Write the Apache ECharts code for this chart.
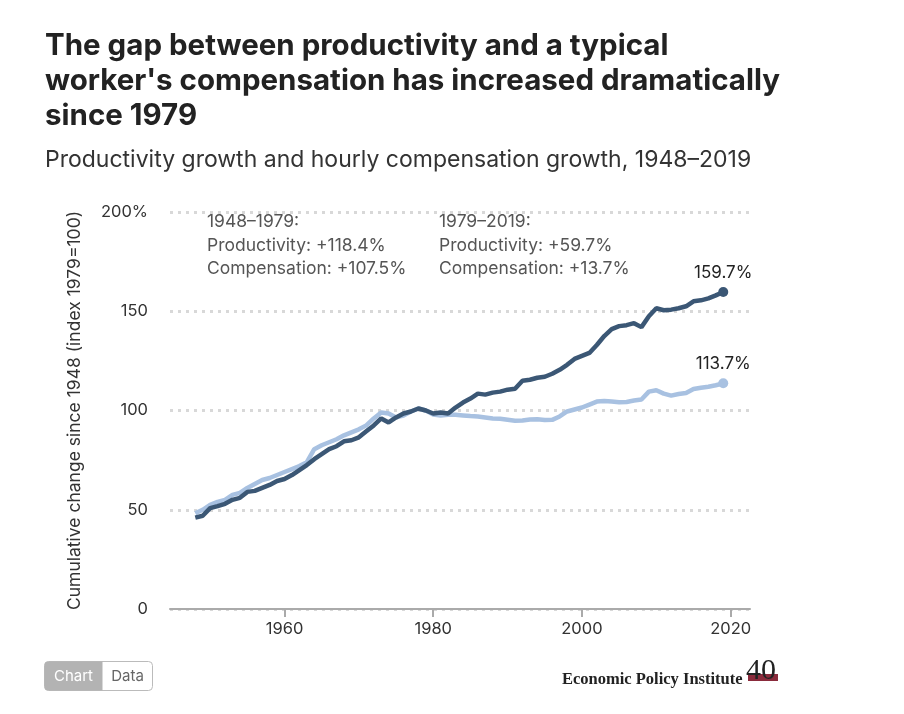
<!DOCTYPE html>
<html>
<head>
<meta charset="utf-8">
<script src="https://cdn.jsdelivr.net/npm/echarts@6/dist/echarts.min.js"></script>
<style>
  html, body { margin: 0; padding: 0; background: #fff; }
  #chart { width: 904px; height: 714px; }
</style>
</head>
<body>
<div id="chart"></div>
<script>
  // years 1948..2019, index 1979 = 100
  const years = [];
  for (let y = 1948; y <= 2019; y++) years.push(y);

  const productivity = [
    46.0, 47.0, 50.8, 51.8, 53.0, 55.0, 56.0, 59.0, 59.5, 61.0,
    62.5, 64.5, 65.5, 67.5, 70.0, 72.5, 75.5, 78.0, 80.5, 82.0,
    84.5, 85.0, 86.5, 89.5, 92.5, 96.0, 94.0, 96.5, 98.5, 99.5,
    101.0, 100.0, 98.5, 99.0, 98.5, 101.5, 104.0, 106.0, 108.5, 108.0,
    109.0, 109.5, 110.5, 111.0, 115.0, 115.5, 116.5, 117.0, 118.5, 120.5,
    123.0, 126.0, 127.5, 129.0, 133.0, 137.5, 141.0, 142.5, 143.0, 144.0,
    142.0, 147.5, 151.5, 150.5, 150.8, 151.5, 152.5, 155.0, 155.5, 156.5,
    158.0, 159.7
  ];

  const compensation = [
    48.2, 50.0, 52.5, 54.0, 55.0, 57.5, 58.5, 61.0, 63.0, 65.0,
    66.0, 67.5, 69.0, 70.5, 72.0, 74.0, 80.5, 82.5, 84.0, 85.5,
    87.5, 89.0, 90.5, 92.5, 96.0, 99.0, 98.5, 96.5, 97.5, 99.5,
    101.0, 100.0, 98.0, 97.5, 97.8, 97.8, 97.5, 97.2, 97.0, 96.5,
    96.0, 95.8, 95.3, 94.8, 95.0, 95.5, 95.6, 95.2, 95.3, 97.0,
    99.5, 100.5, 101.5, 103.0, 104.5, 104.8, 104.5, 104.2, 104.3, 105.0,
    105.5, 109.5, 110.2, 108.5, 107.5, 108.3, 108.8, 110.8, 111.5, 112.0,
    112.7, 113.7
  ];

  const xTicks = [1960, 1980, 2000, 2020];
  const splitYear = 1979;

  const font = 'Inter, "Noto Sans", sans-serif';
  const darkBlue = '#3b5775';
  const lightBlue = '#a8c1e1';

  function buildData(vals) {
    return vals.map((v, i) => {
      if (i === vals.length - 1) {
        return {
          value: [years[i], v],
          symbol: 'circle',
          symbolSize: 10,
          label: {
            show: true,
            position: 'top',
            distance: 6,
            formatter: v.toFixed(1) + '%',
            color: '#222',
            fontSize: 17,
            fontFamily: font
          }
        };
      }
      return [years[i], v];
    });
  }

  const chart = echarts.init(document.getElementById('chart'), null, { renderer: 'canvas' });

  const option = {
    backgroundColor: '#fff',
    animation: false,
    title: [{
      text: "The gap between productivity and a typical\nworker's compensation has increased dramatically\nsince 1979",
      left: 40,
      top: 24,
      textStyle: {
        fontFamily: font,
        fontWeight: 'bold',
        fontSize: 29.5,
        lineHeight: 35,
        color: '#222'
      }
    }, {
      text: 'Productivity growth and hourly compensation growth, 1948\u20132019',
      left: 40,
      top: 144,
      textStyle: {
        fontFamily: font,
        fontWeight: 'normal',
        fontSize: 23,
        color: '#333'
      }
    }],
    grid: {
      left: 170,
      right: 154,
      top: 212,
      bottom: 105
    },
    xAxis: {
      type: 'value',
      min: 1944.6,
      max: 2022.6,
      axisLine: { show: true, lineStyle: { color: '#aaa', width: 2 } },
      axisTick: {
        show: true,
        customValues: xTicks,
        length: 8,
        lineStyle: { color: '#aaa', width: 2 }
      },
      axisLabel: {
        customValues: xTicks,
        color: '#333',
        fontSize: 16.5,
        fontFamily: font,
        margin: 12,
        formatter: v => String(v)
      },
      splitLine: { show: false }
    },
    yAxis: {
      type: 'value',
      min: 0,
      max: 200,
      interval: 50,
      name: 'Cumulative change since 1948 (index 1979=100)',
      nameLocation: 'middle',
      nameGap: 86,
      nameTextStyle: { color: '#333', fontSize: 17.5, fontFamily: font },
      axisLine: { show: false },
      axisTick: { show: false },
      axisLabel: {
        color: '#333',
        fontSize: 16.5,
        fontFamily: font,
        margin: 22,
        formatter: v => (v === 200 ? '200%' : String(v))
      },
      splitLine: {
        show: true,
        lineStyle: { color: '#d8d8d8', width: 3, type: [3, 5] }
      }
    },
    graphic: [
      {
        type: 'text',
        left: 207,
        top: 210,
        style: {
          text: '1948\u20131979:\nProductivity: +118.4%\nCompensation: +107.5%',
          fill: '#555',
          font: '17.5px ' + font,
          lineHeight: 23.5
        }
      },
      {
        type: 'text',
        left: 439,
        top: 210,
        style: {
          text: '1979\u20132019:\nProductivity: +59.7%\nCompensation: +13.7%',
          fill: '#555',
          font: '17.5px ' + font,
          lineHeight: 23.5
        }
      },
      // Chart / Data toggle
      {
        type: 'group',
        left: 44,
        top: 661,
        children: [
          { type: 'rect', shape: { x: 0, y: 0, width: 108, height: 29, r: 4 },
            style: { fill: '#fff', stroke: '#bbb', lineWidth: 1 } },
          { type: 'rect', shape: { x: 0, y: 0, width: 58, height: 29, r: [4, 0, 0, 4] },
            style: { fill: '#b3b3b3' } },
          { type: 'text', x: 29, y: 15,
            style: { text: 'Chart', fill: '#fff', font: '15px ' + font, align: 'center', verticalAlign: 'middle' } },
          { type: 'text', x: 83, y: 15,
            style: { text: 'Data', fill: '#666', font: '15px ' + font, align: 'center', verticalAlign: 'middle' } }
        ]
      },
      // logo
      {
        type: 'text',
        left: 562,
        top: 671,
        style: {
          text: 'Economic Policy Institute',
          fill: '#222',
          font: 'bold 16.5px "Liberation Serif", serif'
        }
      },
      {
        type: 'rect',
        shape: { x: 748, y: 674, width: 30, height: 7 },
        style: { fill: '#8a2b3c' }
      },
      {
        type: 'text',
        left: 746,
        top: 656,
        style: {
          text: '40',
          fill: '#222',
          font: '30px "Liberation Serif", serif'
        }
      }
    ],
    series: [
      {
        name: 'Compensation',
        type: 'line',
        data: buildData(compensation),
        symbol: 'none',
        showAllSymbol: true,
        lineStyle: { color: lightBlue, width: 4.5 },
        itemStyle: { color: lightBlue },
        z: 2,
        markLine: {
          silent: true,
          symbol: 'none',
          label: { show: false },
          lineStyle: { color: '#c4c4c4', width: 3, type: [3, 4] },
          data: [[{ coord: [splitYear, 0] }, { coord: [splitYear, 203] }]]
        }
      },
      {
        name: 'Productivity',
        type: 'line',
        data: buildData(productivity),
        symbol: 'none',
        showAllSymbol: true,
        lineStyle: { color: darkBlue, width: 4.5 },
        itemStyle: { color: darkBlue },
        z: 3
      }
    ]
  };

  chart.setOption(option);
</script>
</body>
</html>
